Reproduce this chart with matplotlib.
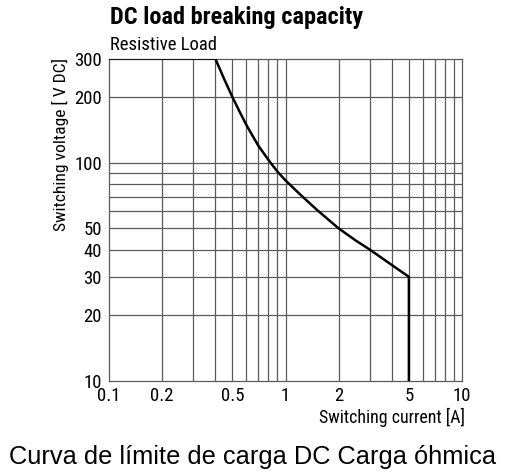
import matplotlib
matplotlib.use("Agg")
import matplotlib.pyplot as plt
from matplotlib.ticker import FixedLocator, NullFormatter, NullLocator

# curve (current in A, voltage in V DC)
current = [0.1, 0.4, 0.45, 0.5, 0.55, 0.6, 0.65, 0.7, 0.8, 0.9, 1.0, 1.2, 1.5, 2.0, 2.5, 3.0, 4.0, 5.0, 5.0]
voltage = [300, 300, 241, 200, 171, 149, 133, 120, 103, 91, 83, 72, 61, 50, 44, 40, 34, 30, 10]

x_grid = [0.2, 0.3, 0.4, 0.5, 0.6, 0.7, 0.8, 0.9, 1, 2, 3, 4, 5, 6, 7, 8, 9]
y_grid = [20, 30, 40, 50, 60, 70, 80, 90, 100, 200]
x_ticks = [0.1, 0.2, 0.5, 1, 2, 5, 10]
x_labels = ["0.1", "0.2", "0.5", "1", "2", "5", "10"]
y_ticks = [10, 20, 30, 40, 50, 100, 200, 300]
y_labels = ["10", "20", "30", "40", "50", "100", "200", "300"]

narrow = ["Roboto Condensed", "Liberation Sans Narrow", "Roboto", "DejaVu Sans"]

fig = plt.figure(figsize=(5.05, 4.72), dpi=100)
ax = fig.add_axes([0.2158, 0.1928, 0.6991, 0.6832])

ax.set_xscale("log")
ax.set_yscale("log")
ax.set_xlim(0.1, 10)
ax.set_ylim(10, 300)

gridcol = "#5a5a5a"
for xv in x_grid:
    ax.axvline(xv, color=gridcol, lw=0.9, zorder=1)
for yv in y_grid:
    ax.axhline(yv, color=gridcol, lw=0.9, zorder=1)

ax.plot(current, voltage, color="black", lw=1.8, zorder=3)

ax.xaxis.set_major_locator(FixedLocator(x_ticks))
ax.yaxis.set_major_locator(FixedLocator(y_ticks))
ax.xaxis.set_minor_locator(NullLocator())
ax.yaxis.set_minor_locator(NullLocator())
ax.xaxis.set_minor_formatter(NullFormatter())
ax.yaxis.set_minor_formatter(NullFormatter())
ax.set_xticklabels(x_labels, family=narrow, fontsize=13.5)
ax.set_yticklabels(y_labels, family=narrow, fontsize=13.5)
ax.tick_params(axis="x", length=0, pad=4)
ax.tick_params(axis="y", length=0, pad=5)

for s in ax.spines.values():
    s.set_color(gridcol)
    s.set_linewidth(0.9)

fig.text(0.119, 0.693, "Switching voltage [ V DC]", family=narrow, fontsize=12.6,
         rotation=90, ha="center", va="center")
fig.text(0.921, 0.116, "Switching current [A]", family=narrow, fontsize=12.9,
         ha="right", va="center")

fig.text(0.217, 0.962, "DC load breaking capacity", family=narrow, fontsize=17.5,
         fontweight="bold", ha="left", va="center")
fig.text(0.217, 0.905, "Resistive Load", family=narrow, fontsize=13.4,
         ha="left", va="center")

fig.text(0.5, 0.032, "Curva de límite de carga DC Carga óhmica",
         family=["Liberation Sans", "DejaVu Sans"], fontsize=18.3, ha="center", va="center")

fig.savefig("out.png", dpi=100)
